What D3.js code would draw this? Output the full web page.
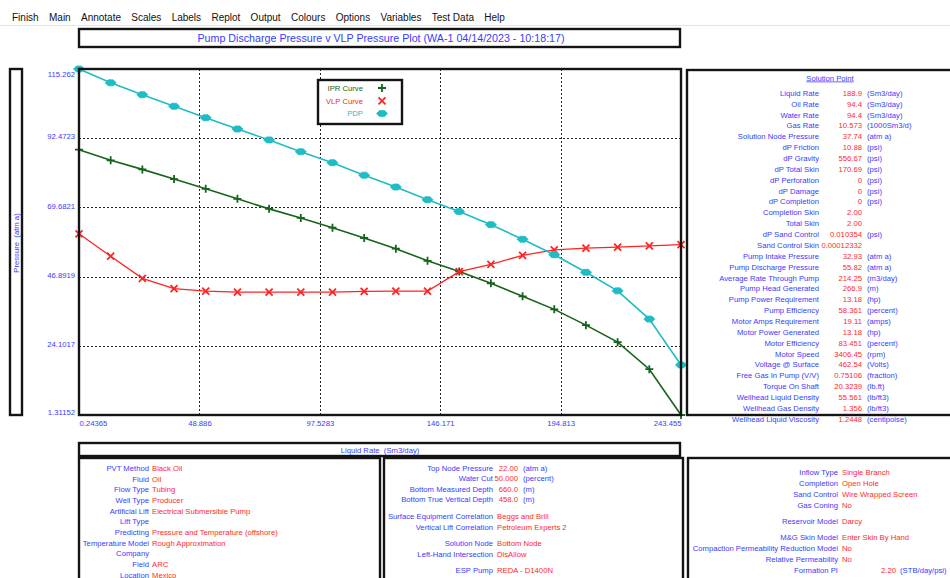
<!DOCTYPE html>
<html>
<head>
<meta charset="utf-8">
<script src="https://cdn.jsdelivr.net/npm/d3@7"></script>
<style>
  body { margin: 0; background: #fff; }
  svg { display: block; font-family: "Liberation Sans", Arial, sans-serif; }
</style>
</head>
<body>
<div id="chart"></div>
<script>
// ---- data ----
var menuItems = ["Finish", "Main", "Annotate", "Scales", "Labels", "Replot", "Output", "Colours", "Options", "Variables", "Test Data", "Help"];
var titleText = "Pump Discharge Pressure v VLP Pressure Plot (WA-1 04/14/2023 - 10:18:17)";

var xTicks = [0.24365, 48.886, 97.5283, 146.171, 194.813, 243.455];
var xTickLabels = ["0.24365", "48.886", "97.5283", "146.171", "194.813", "243.455"];
var yTicks = [1.31152, 24.1017, 46.8919, 69.6821, 92.4723, 115.262];
var yTickLabels = ["1.31152", "24.1017", "46.8919", "69.6821", "92.4723", "115.262"];

var liquidRate = [0.24, 13.04, 25.84, 38.64, 51.44, 64.25, 77.05, 89.85, 102.65, 115.45,
  128.25, 141.05, 153.85, 166.65, 179.45, 192.25, 205.05, 217.85, 230.65, 243.46];
var iprCurve = [88.7, 85.2, 82.2, 79.0, 75.8, 72.5, 69.2, 66.2, 63.0, 59.6,
  56.1, 52.1, 48.6, 44.7, 40.4, 36.1, 30.9, 25.3, 16.4, 1.31];
var vlpCurve = [61.0, 53.6, 46.3, 42.9, 42.1, 41.8, 41.8, 41.8, 41.8, 42.0,
  42.1, 42.1, 48.5, 50.9, 53.9, 55.7, 56.3, 56.6, 57.0, 57.4];
var pdpCurve = [115.26, 110.7, 106.8, 103.0, 99.2, 95.5, 91.9, 88.0, 84.4, 80.3,
  76.4, 72.2, 68.3, 64.0, 59.2, 54.1, 48.3, 42.2, 32.9, 17.8];

var seriesNames = ["IPR Curve", "VLP Curve", "PDP"];
var seriesColors = ["#16641a", "#ff2424", "#1fbcc4"];

var solLabels = ["Liquid Rate", "Oil Rate", "Water Rate", "Gas Rate", "Solution Node Pressure",
  "dP Friction", "dP Gravity", "dP Total Skin", "dP Perforation", "dP Damage", "dP Completion",
  "Completion Skin", "Total Skin", "dP Sand Control", "Sand Control Skin", "Pump Intake Pressure",
  "Pump Discharge Pressure", "Average Rate Through Pump", "Pump Head Generated", "Pump Power Requirement",
  "Pump Efficiency", "Motor Amps Requirement", "Motor Power Generated", "Motor Efficiency", "Motor Speed",
  "Voltage @ Surface", "Free Gas In Pump (V/V)", "Torque On Shaft", "Wellhead Liquid Density",
  "Wellhead Gas Density", "Wellhead Liquid Viscosity"];
var solValues = ["188.9", "94.4", "94.4", "10.573", "37.74", "10.88", "556.67", "170.69", "0", "0", "0",
  "2.00", "2.00", "0.010354", "0.00012332", "32.93", "55.82", "214.25", "266.9", "13.18", "58.361",
  "19.11", "13.18", "83.451", "3406.45", "462.54", "0.75106", "20.3239", "55.561", "1.356", "1.2448"];
var solUnits = ["(Sm3/day)", "(Sm3/day)", "(Sm3/day)", "(1000Sm3/d)", "(atm a)", "(psi)", "(psi)", "(psi)",
  "(psi)", "(psi)", "(psi)", "", "", "(psi)", "", "(atm a)", "(atm a)", "(m3/day)", "(m)", "(hp)",
  "(percent)", "(amps)", "(hp)", "(percent)", "(rpm)", "(Volts)", "(fraction)", "(lb.ft)", "(lb/ft3)",
  "(lb/ft3)", "(centipoise)"];

var p1Labels = ["PVT Method", "Fluid", "Flow Type", "Well Type", "Artificial Lift", "Lift Type",
  "Predicting", "Temperature Model", "Company", "Field", "Location"];
var p1Values = ["Black Oil", "Oil", "Tubing", "Producer", "Electrical Submersible Pump", "",
  "Pressure and Temperature (offshore)", "Rough Approximation", "", "ARC", "Mexico"];

var p2Labels = ["Top Node Pressure", "Water Cut", "Bottom Measured Depth", "Bottom True Vertical Depth",
  "Surface Equipment Correlation", "Vertical Lift Correlation", "Solution Node", "Left-Hand Intersection",
  "ESP Pump", "ESP Motor"];
var p2Numbers = ["22.00", "50.000", "660.0", "458.0", "", "", "", "", "", ""];
var p2Units = ["(atm a)", "(percent)", "(m)", "(m)", "", "", "", "", "", ""];
var p2Texts = ["", "", "", "", "Beggs and Brill", "Petroleum Experts 2", "Bottom Node", "DisAllow",
  "REDA - D1400N", "Reda"];
var p2Groups = [0, 0, 0, 0, 1, 1, 2, 2, 3, 3];

var p3Labels = ["Inflow Type", "Completion", "Sand Control", "Gas Coning", "Reservoir Model",
  "M&G Skin Model", "Compaction Permeability Reduction Model", "Relative Permeability", "Formation PI"];
var p3Texts = ["Single Branch", "Open Hole", "Wire Wrapped Screen", "No", "Darcy", "Enter Skin By Hand",
  "No", "No", ""];
var p3Numbers = ["", "", "", "", "", "", "", "", "2.20"];
var p3Units = ["", "", "", "", "", "", "", "", "(STB/day/psi)"];
var p3Groups = [0, 0, 0, 0, 1, 2, 2, 2, 2];

// ---- drawing ----
var W = 950, H = 578;
var BLUE = "#3a3aff", RED = "#ff2a2a", FS = 7.7;

var svg = d3.select("#chart").append("svg").attr("width", W).attr("height", H);

// menu bar
var menu = svg.append("g").attr("font-family", "'Liberation Sans', Arial, sans-serif").attr("font-size", 10);
var mx = 12;
menuItems.forEach(function (m) {
  var t = menu.append("text").attr("x", mx).attr("y", 21).attr("fill", "#111").text(m);
  mx += t.node().getComputedTextLength() + 10.3;
});
svg.append("line").attr("x1", 0).attr("x2", W).attr("y1", 25.5).attr("y2", 25.5)
  .attr("stroke", "#e4e4e4");

function box(x0, y0, x1, y1) {
  svg.append("rect").attr("x", x0).attr("y", y0).attr("width", x1 - x0).attr("height", y1 - y0)
    .attr("fill", "none").attr("stroke", "#141414").attr("stroke-width", 2.4);
}

// title
box(79, 29, 680, 47);
svg.append("text").attr("x", 381).attr("y", 42).attr("text-anchor", "middle")
  .attr("font-size", 10.7).attr("fill", BLUE).text(titleText);

// scales
var x = d3.scaleLinear().domain([xTicks[0], xTicks[xTicks.length - 1]]).range([79, 681]);
var y = d3.scaleLinear().domain([yTicks[0], yTicks[yTicks.length - 1]]).range([415, 69]);

// grid
var grid = svg.append("g").attr("stroke", "#222").attr("stroke-width", 1).attr("stroke-dasharray", "2,2");
grid.selectAll(".vg").data(xTicks.slice(1, -1)).enter().append("line")
  .attr("x1", function (d) { return Math.round(x(d)) + 0.5; })
  .attr("x2", function (d) { return Math.round(x(d)) + 0.5; })
  .attr("y1", 69).attr("y2", 415);
grid.selectAll(".hg").data(yTicks.slice(1, -1)).enter().append("line")
  .attr("y1", function (d) { return Math.round(y(d)) + 0.5; })
  .attr("y2", function (d) { return Math.round(y(d)) + 0.5; })
  .attr("x1", 79).attr("x2", 681);

// axes labels (tick text only)
var yAxis = d3.axisLeft(y).tickValues(yTicks).tickSize(0).tickPadding(3)
  .tickFormat(function (d, i) { return yTickLabels[i]; });
var gy = svg.append("g").attr("transform", "translate(78,0)").call(yAxis);
gy.select(".domain").remove();
gy.selectAll("text").attr("font-size", FS).attr("fill", BLUE)
  .attr("font-family", "'Liberation Sans', Arial, sans-serif")
  .attr("dy", function (d, i) { return i === 0 ? "-0.05em" : (i === yTicks.length - 1 ? "0.95em" : "0.1em"); });

var xAxis = d3.axisBottom(x).tickValues(xTicks).tickSize(0).tickPadding(5)
  .tickFormat(function (d, i) { return xTickLabels[i]; });
var gx = svg.append("g").attr("transform", "translate(0,416)").call(xAxis);
gx.select(".domain").remove();
gx.selectAll("text").attr("font-size", FS).attr("fill", BLUE)
  .attr("font-family", "'Liberation Sans', Arial, sans-serif")
  .attr("text-anchor", function (d, i) { return i === 0 ? "start" : (i === xTicks.length - 1 ? "end" : "middle"); });

// y label box
box(10, 69, 22, 415);
svg.append("text").attr("transform", "translate(18.5,243) rotate(-90)").attr("text-anchor", "middle")
  .attr("font-size", FS).attr("fill", BLUE).attr("xml:space", "preserve").text("Pressure  (atm a)");

// x label box
box(79, 443, 680, 456);
svg.append("text").attr("x", 380).attr("y", 452.5).attr("text-anchor", "middle")
  .attr("font-size", FS).attr("fill", BLUE).attr("xml:space", "preserve").text("Liquid Rate  (Sm3/day)");

// curves
var series = [iprCurve, vlpCurve, pdpCurve];
var line = d3.line().x(function (d) { return x(d[0]); }).y(function (d) { return y(d[1]); });
var markerPaths = [
  "M-4,0H4M0,-4V4",
  "M-3.5,-3.5L3.5,3.5M-3.5,3.5L3.5,-3.5",
  "M-5.5,0L-2.5,-3H2.5L5.5,0L2.5,3H-2.5Z"
];
var curves = svg.append("g");
series.forEach(function (vals, s) {
  var pts = d3.zip(liquidRate, vals);
  curves.append("path").datum(pts).attr("d", line).attr("fill", "none")
    .attr("stroke", seriesColors[s]).attr("stroke-width", s === 1 ? 1.3 : 1.6);
  curves.selectAll(".m" + s).data(pts).enter().append("path")
    .attr("transform", function (d) { return "translate(" + x(d[0]) + "," + y(d[1]) + ")"; })
    .attr("d", markerPaths[s])
    .attr("fill", s === 2 ? seriesColors[s] : "none")
    .attr("stroke", seriesColors[s]).attr("stroke-width", s === 2 ? 0.8 : 1.8);
});

// plot frame
box(79, 69, 681, 415);

// legend
svg.append("rect").attr("x", 318).attr("y", 80).attr("width", 84).attr("height", 44)
  .attr("fill", "#fff").attr("stroke", "#141414").attr("stroke-width", 2.4);
var lg = svg.append("g");
seriesNames.forEach(function (n, s) {
  var ly = 88 + s * 12.8;
  lg.append("text").attr("x", 363).attr("y", ly + 2.8).attr("text-anchor", "end")
    .attr("font-size", FS).attr("fill", seriesColors[s]).text(n);
  lg.append("path").attr("transform", "translate(382," + ly + ")").attr("d", markerPaths[s])
    .attr("fill", s === 2 ? seriesColors[s] : "none")
    .attr("stroke", seriesColors[s]).attr("stroke-width", s === 2 ? 0.8 : 1.8);
});

// solution point panel
box(687, 70, 955, 415);
svg.append("text").attr("x", 830).attr("y", 80.5).attr("text-anchor", "middle")
  .attr("font-size", FS).attr("fill", BLUE).attr("text-decoration", "underline").text("Solution Point");
var rowY = d3.scaleLinear().domain([0, solLabels.length - 1]).range([93, 419]);
var sp = svg.append("g").attr("font-size", FS);
sp.selectAll(".sl").data(solLabels).enter().append("text")
  .attr("x", 819).attr("y", function (d, i) { return rowY(i) + 2.8; })
  .attr("text-anchor", "end").attr("fill", BLUE).text(function (d) { return d; });
sp.selectAll(".sv").data(solValues).enter().append("text")
  .attr("x", 862).attr("y", function (d, i) { return rowY(i) + 2.8; })
  .attr("text-anchor", "end").attr("fill", RED).text(function (d) { return d; });
sp.selectAll(".su").data(solUnits).enter().append("text")
  .attr("x", 867).attr("y", function (d, i) { return rowY(i) + 2.8; })
  .attr("fill", BLUE).text(function (d) { return d; });

// bottom panels
box(79, 458, 380, 590);
box(384, 458, 683, 590);
box(688, 458, 960, 590);

var b1 = svg.append("g").attr("font-size", FS);
p1Labels.forEach(function (l, i) {
  var yy = 468 + i * 10.7 + 2.8;
  b1.append("text").attr("x", 149).attr("y", yy).attr("text-anchor", "end").attr("fill", BLUE).text(l);
  b1.append("text").attr("x", 152).attr("y", yy).attr("fill", RED).text(p1Values[i]);
});

var b2 = svg.append("g").attr("font-size", FS);
p2Labels.forEach(function (l, i) {
  var yy = 468 + i * 10.5 + p2Groups[i] * 6.2 + 2.8;
  b2.append("text").attr("x", 493).attr("y", yy).attr("text-anchor", "end").attr("fill", BLUE).text(l);
  if (p2Numbers[i]) {
    b2.append("text").attr("x", 518).attr("y", yy).attr("text-anchor", "end").attr("fill", RED).text(p2Numbers[i]);
    b2.append("text").attr("x", 523).attr("y", yy).attr("fill", BLUE).text(p2Units[i]);
  } else {
    b2.append("text").attr("x", 497).attr("y", yy).attr("fill", RED).text(p2Texts[i]);
  }
});

var b3 = svg.append("g").attr("font-size", FS);
p3Labels.forEach(function (l, i) {
  var yy = 472 + i * 11 + p3Groups[i] * 5 + 2.8;
  b3.append("text").attr("x", 838).attr("y", yy).attr("text-anchor", "end").attr("fill", BLUE).text(l);
  if (p3Numbers[i]) {
    b3.append("text").attr("x", 896).attr("y", yy).attr("text-anchor", "end").attr("fill", RED).text(p3Numbers[i]);
    b3.append("text").attr("x", 900).attr("y", yy).attr("fill", BLUE).text(p3Units[i]);
  } else {
    b3.append("text").attr("x", 842).attr("y", yy).attr("fill", RED).text(p3Texts[i]);
  }
});
</script>
</body>
</html>
